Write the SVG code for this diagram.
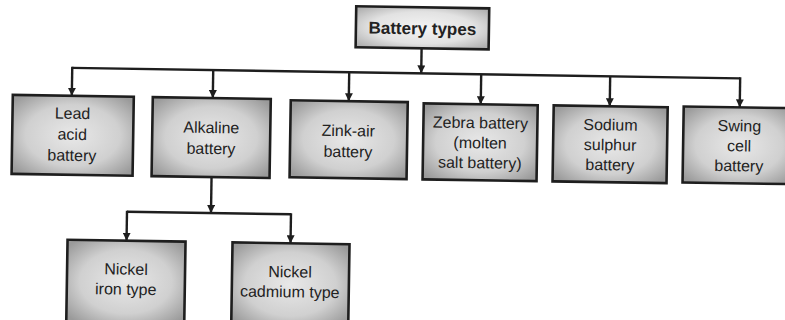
<svg xmlns="http://www.w3.org/2000/svg" width="785" height="320" viewBox="0 0 785 320">
<defs>
<radialGradient id="g" cx="50%" cy="50%" r="65%">
<stop offset="0" stop-color="#e8e8e8"/>
<stop offset="0.6" stop-color="#d0d0d0"/>
<stop offset="1" stop-color="#9a9a9a"/>
</radialGradient>
<radialGradient id="gt" cx="50%" cy="50%" r="65%">
<stop offset="0" stop-color="#f4f4f4"/>
<stop offset="0.6" stop-color="#e2e2e2"/>
<stop offset="1" stop-color="#b0b0b0"/>
</radialGradient>
<marker id="ah" viewBox="0 0 10 10" refX="10" refY="5" markerWidth="8" markerHeight="8" markerUnits="userSpaceOnUse" orient="auto">
<path d="M0,0 L10,5 L0,10 z" fill="#1e1e1e"/>
</marker>
</defs>
<style>
.box{fill:url(#g);stroke:#1e1e1e;stroke-width:2.6}
.tbox{fill:url(#gt);stroke:#1e1e1e;stroke-width:2.6}
.t{font-family:"Liberation Sans",Arial,sans-serif;font-size:16px;fill:#222;text-anchor:middle}
.tb{font-family:"Liberation Sans",Arial,sans-serif;font-size:17px;font-weight:bold;fill:#222;text-anchor:middle}
.c{fill:none;stroke:#1e1e1e;stroke-width:2.4}
</style>
<rect width="785" height="320" fill="#ffffff"/>
<g transform="rotate(0.9 400 150)">
<g id="connectors">
<line class="c" x1="420" y1="48" x2="420" y2="73" marker-end="url(#ah)"/>
<line class="c" x1="71" y1="73" x2="739" y2="73"/>
<line class="c" x1="71" y1="72" x2="71" y2="101" marker-end="url(#ah)"/>
<line class="c" x1="212" y1="73" x2="212" y2="101" marker-end="url(#ah)"/>
<line class="c" x1="348" y1="73" x2="348" y2="102" marker-end="url(#ah)"/>
<line class="c" x1="480" y1="73" x2="480" y2="103" marker-end="url(#ah)"/>
<line class="c" x1="609" y1="73" x2="609" y2="103" marker-end="url(#ah)"/>
<line class="c" x1="739" y1="72" x2="739" y2="102" marker-end="url(#ah)"/>
<line class="c" x1="212" y1="179" x2="212" y2="216" marker-end="url(#ah)"/>
<line class="c" x1="128" y1="216" x2="292" y2="216"/>
<line class="c" x1="128" y1="215" x2="128" y2="245" marker-end="url(#ah)"/>
<line class="c" x1="292" y1="215" x2="292" y2="245" marker-end="url(#ah)"/>
</g>
<g id="battery-types">
<rect class="tbox" x="354" y="7" width="133" height="41"/>
<text class="tb" x="420.5" y="34">Battery types</text>
</g>
<g id="lead-acid">
<rect class="box" x="12" y="101" width="121" height="79"/>
<text class="t" x="72" y="124">Lead</text>
<text class="t" x="72" y="145">acid</text>
<text class="t" x="72" y="166">battery</text>
</g>
<g id="alkaline">
<rect class="box" x="152" y="101" width="118" height="79"/>
<text class="t" x="211" y="136">Alkaline</text>
<text class="t" x="211" y="157">battery</text>
</g>
<g id="zink-air">
<rect class="box" x="290" y="102" width="117" height="77"/>
<text class="t" x="348" y="137">Zink-air</text>
<text class="t" x="348" y="158">battery</text>
</g>
<g id="zebra">
<rect class="box" x="423" y="103" width="114" height="76"/>
<text class="t" x="480" y="127">Zebra battery</text>
<text class="t" x="480" y="147">(molten</text>
<text class="t" x="480" y="167">salt battery)</text>
</g>
<g id="sodium-sulphur">
<rect class="box" x="553" y="103" width="114" height="76"/>
<text class="t" x="610" y="127">Sodium</text>
<text class="t" x="610" y="147">sulphur</text>
<text class="t" x="610" y="167">battery</text>
</g>
<g id="swing-cell">
<rect class="box" x="683" y="102" width="112" height="76"/>
<text class="t" x="739" y="126">Swing</text>
<text class="t" x="739" y="146">cell</text>
<text class="t" x="739" y="166">battery</text>
</g>
<g id="nickel-iron">
<rect class="box" x="69" y="245" width="118" height="82"/>
<text class="t" x="128" y="279">Nickel</text>
<text class="t" x="128" y="299">iron type</text>
</g>
<g id="nickel-cadmium">
<rect class="box" x="234" y="245" width="117" height="82"/>
<text class="t" x="292" y="279">Nickel</text>
<text class="t" x="292" y="299">cadmium type</text>
</g>
</g>
</svg>
